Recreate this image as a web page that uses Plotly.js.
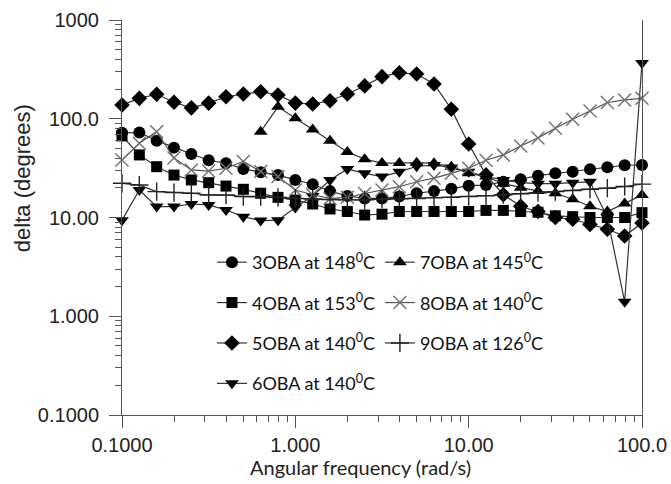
<!DOCTYPE html>
<html>
<head>
<meta charset="utf-8">
<script src="https://cdn.plot.ly/plotly-3.0.1.min.js"></script>
<style>html,body{margin:0;padding:0;background:#fff;}#chart{width:671px;height:484px;}</style>
</head>
<body>
<div id="chart"></div>
<script>
// Angular frequency (rad/s)
const freq = [0.1, 0.1259, 0.1585, 0.1995, 0.2512, 0.3162, 0.3981, 0.5012, 0.6310, 0.7943,
  1.0, 1.259, 1.585, 1.995, 2.512, 3.162, 3.981, 5.012, 6.310, 7.943,
  10.0, 12.59, 15.85, 19.95, 25.12, 31.62, 39.81, 50.12, 63.10, 79.43, 100.0];

// delta (degrees)
const oba3 = [72, 72.5, 60, 51, 44, 38, 35.4, 31, 28.7, 26.9, 24, 21.7, 18.5, 16.5, 15.6, 15.6, 16.3, 17.6, 18.5, 19.5, 21, 21.3, 23, 24.4, 26.5, 28, 29.1, 30.8, 32.2, 33.8, 34];
const oba4 = [67, 43, 32.7, 26.9, 24, 22.5, 20.8, 19.3, 17.6, 16, 15, 13.7, 12.2, 11.5, 10.6, 10.8, 11.5, 11.5, 11.5, 11.5, 11.5, 11.8, 11.8, 11.5, 11.3, 10.4, 10.2, 10, 10, 10, 11.2];
const oba5 = [138, 161, 177, 147, 129, 144, 167, 178, 188, 174, 144, 141, 152, 178, 215, 267, 292, 284, 225, 125, 55.5, 27, 17, 13, 11.5, 10, 9.6, 8.5, 7.6, 6.5, 8.8];
const oba6 = [9.4, 19, 12.9, 12.9, 13.7, 13.4, 11.9, 10.2, 9.3, 9.4, 12.6, 16.5, 24, 31, 28, 26, 29, 33, 34, 32, 29, 26, 24, 22.5, 22, 22, 22.5, 23, 10, 1.4, 367];
const oba7 = [null, null, null, null, null, null, null, null, 74, 132, 101, 78, 60, 46, 39, 35.6, 35.6, 35.9, 35.4, 32.7, 28, 26, 22, 20, 18.5, 17.6, 15.3, 13, 11.5, 13.9, 16.9];
const oba8 = [38.2, 56.4, 74, 40, 30.3, 29.5, 31.5, 37, 29.2, 26, 19, 17, 15.6, 16, 17.5, 19, 20.5, 23, 25, 28, 31.5, 38, 43, 53, 64, 80, 99, 120, 146, 155, 161];
const oba9 = [22.2, 21.3, 18.3, 17.9, 17.6, 16.9, 16.9, 16.3, 16.3, 16, 15.6, 15.4, 15.2, 15.1, 15.1, 15.3, 15.5, 15.6, 15.8, 16, 16.3, 16.6, 17, 17.4, 17.8, 18.3, 18.8, 19.3, 19.8, 20.6, 21.8];

const seriesNames = ['3OBA at 148<sup>0</sup>C', '4OBA at 153<sup>0</sup>C', '5OBA at 140<sup>0</sup>C', '6OBA at 140<sup>0</sup>C',
  '7OBA at 145<sup>0</sup>C', '8OBA at 140<sup>0</sup>C', '9OBA at 126<sup>0</sup>C'];
const seriesData = [oba3, oba4, oba5, oba6, oba7, oba8, oba9];

const styles = [
  {symbol: 'circle', size: 12, color: '#000', line: '#333', legend: 'legend'},
  {symbol: 'square', size: 11, color: '#000', line: '#333', legend: 'legend'},
  {symbol: 'diamond', size: 12, color: '#000', line: '#333', legend: 'legend'},
  {symbol: 'triangle-down', size: 12, color: '#000', line: '#333', legend: 'legend'},
  {symbol: 'triangle-up', size: 12, color: '#000', line: '#333', legend: 'legend2'},
  {symbol: 'x-thin-open', size: 13, color: '#707070', line: '#555', legend: 'legend2'},
  {symbol: 'cross-thin-open', size: 13, color: '#222', line: '#333', legend: 'legend2'}
];

const traces = seriesData.map((ys, i) => {
  const s = styles[i];
  const thin = s.symbol.indexOf('thin') >= 0;
  return {
    type: 'scatter', mode: 'lines+markers',
    x: freq, y: ys, name: seriesNames[i],
    legend: s.legend, legendgroup: 'g' + i,
    cliponaxis: false, connectgaps: false,
    line: {color: s.line, width: 1.2},
    marker: {symbol: s.symbol, size: s.size, color: s.color,
      line: {color: s.color, width: thin ? 1.4 : 0}}
  };
});

const tickFont = {family: 'Liberation Sans, Arial, sans-serif', size: 20, color: '#222'};
const legendFont = {family: 'Lato, Open Sans, sans-serif', size: 18, color: '#111'};

const layout = {
  width: 671, height: 484,
  margin: {l: 122, r: 29, t: 20, b: 69},
  paper_bgcolor: '#fff', plot_bgcolor: '#fff',
  showlegend: true,
  xaxis: {
    type: 'log', range: [-1, 2],
    tickmode: 'array', tickvals: [0.1, 1, 10, 100], ticktext: ['0.1000', '1.000', '10.00', '100.0'],
    ticks: 'outside', ticklen: 12, tickwidth: 1, tickcolor: '#555',
    showline: true, linecolor: '#555', linewidth: 1,
    showgrid: false, zeroline: false, tickfont: tickFont,
    minor: {ticks: 'outside', dtick: 'D1', ticklen: 6, tickcolor: '#555', showgrid: false}
  },
  yaxis: {
    type: 'log', range: [-1, 3],
    tickmode: 'array', tickvals: [0.1, 1, 10, 100, 1000], ticktext: ['0.1000', '1.000', '10.00', '100.0', '1000'],
    ticks: 'outside', ticklen: 12, tickwidth: 1, tickcolor: '#555', ticklabelstandoff: 6,
    showline: true, linecolor: '#555', linewidth: 1, mirror: true,
    showgrid: false, zeroline: false, tickfont: tickFont,
    minor: {ticks: 'outside', dtick: 'D1', ticklen: 6, tickcolor: '#555', showgrid: false}
  },
  legend: {
    x: 0.173, y: 0.433, xanchor: 'left', yanchor: 'top', xref: 'paper', yref: 'paper',
    bgcolor: 'rgba(0,0,0,0)', borderwidth: 0, font: legendFont,
    traceorder: 'grouped', tracegroupgap: 14
  },
  legend2: {
    x: 0.496, y: 0.433, xanchor: 'left', yanchor: 'top', xref: 'paper', yref: 'paper',
    bgcolor: 'rgba(0,0,0,0)', borderwidth: 0, font: legendFont,
    traceorder: 'grouped', tracegroupgap: 14
  },
  annotations: [
    {text: 'delta (degrees)', xref: 'paper', yref: 'paper', x: -0.192, y: 0.6,
     xanchor: 'center', yanchor: 'middle', textangle: -90, showarrow: false,
     font: {family: 'Liberation Sans, Arial, sans-serif', size: 22, color: '#222'}},
    {text: 'Angular frequency (rad/s)', xref: 'paper', yref: 'paper', x: 0.458, y: -0.132,
     xanchor: 'center', yanchor: 'middle', showarrow: false,
     font: {family: 'Lato, Open Sans, sans-serif', size: 20, color: '#222'}}
  ]
};

Plotly.newPlot('chart', traces, layout, {displayModeBar: false, staticPlot: true});
</script>
</body>
</html>
